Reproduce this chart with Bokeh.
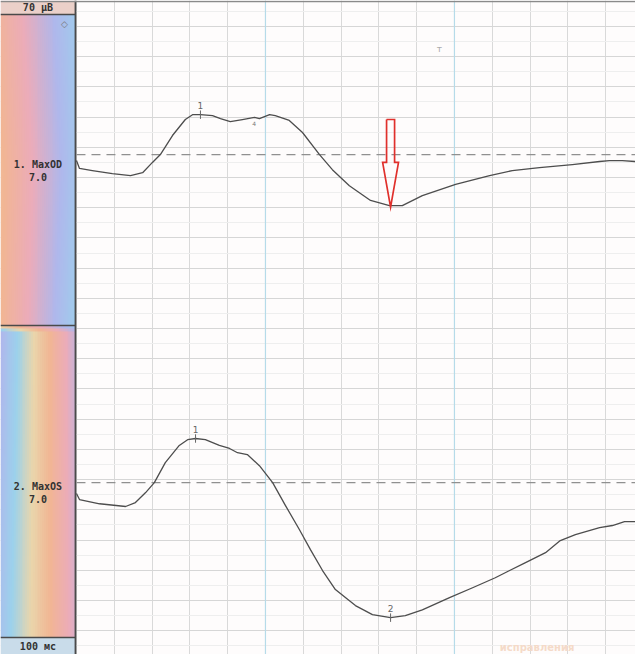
import numpy as np
from bokeh.plotting import figure
from bokeh.models import Range1d, Grid, FixedTicker, Span
from bokeh.core.properties import value
from bokeh.embed import file_html
from bokeh.resources import INLINE

# ---------------- data (time in ms, amplitude in µV relative to each channel baseline) -------------
t_od = [0, 0.8, 4.2, 9.5, 14.3, 17.5, 20.1, 22.2, 25.4, 28.8, 30.7, 32.8, 36.0, 38.1, 40.7,
        43.9, 47.1, 48.4, 51.1, 52.6, 56.3, 59.8, 64.3, 67.7, 72.2, 77.8, 82.8, 86.2, 91.5,
        100.3, 109.3, 115.3, 122.5, 131.2, 138.4, 141.0, 144.4, 147.9]
a_od = [-2.0, -4.6, -5.3, -6.3, -7.0, -6.0, -2.6, 0.0, 6.3, 11.6, 13.2, 13.2, 12.9, 11.9, 10.9,
        11.6, 12.3, 11.9, 13.2, 12.9, 11.3, 7.3, 0.0, -5.0, -10.3, -15.2, -16.9, -16.9, -13.6,
        -9.9, -7.0, -5.3, -4.3, -3.3, -2.3, -2.0, -2.0, -2.3]

t_os = [0, 0.8, 6.1, 13.0, 15.6, 18.3, 20.6, 23.5, 27.2, 29.4, 31.5, 34.1, 37.8, 40.5, 42.6,
        45.2, 48.4, 51.9, 55.3, 59.0, 61.9, 65.1, 68.5, 73.8, 78.3, 83.1, 87.0, 91.5, 98.7,
        104.8, 110.8, 114.6, 118.8, 124.1, 128.0, 132.0, 138.4, 141.8, 145.0, 147.9]
a_os = [-3.6, -5.6, -7.0, -7.9, -6.6, -3.3, 0.0, 6.6, 12.3, 14.2, 14.6, 14.2, 12.3, 11.3, 9.9,
        9.3, 5.6, 0.0, -7.6, -15.6, -22.2, -29.1, -35.4, -40.7, -43.7, -44.7, -44.0, -42.1, -38.1,
        -34.8, -31.5, -29.1, -26.5, -23.2, -19.2, -17.2, -14.9, -14.2, -12.9, -12.9]

od_marks_t = [32.8]
od_marks_a = [13.2]
od_marks_lbl = ["1"]
os_marks_t = [31.5, 83.1]
os_marks_a = [14.6, -44.7]
os_marks_lbl = ["1", "2"]

arrow_t = 83.1          # trough of the OD trace, marked by the red arrow
arrow_a = -17.4

channel_names = ["1. MaxOD", "2. MaxOS"]
channel_gain = ["7.0", "7.0"]
amp_scale_label = "70 µВ"
time_scale_label = "100 мс"

x_grid = list(range(0, 160, 10))
y_grid = list(range(-50, 160, 10))
y_grid_minor = [v + 5 for v in range(-60, 160, 10)]
x_major_blue = [50, 100]

# ---------------- layout constants ----------------
BASE_OD = 107.6
BASE_OS = -1.0
X0, X1 = -20.1, 147.9
Y0, Y1 = -57.9, 158.6
PANEL_R = -0.26

p = figure(width=635, height=654, x_range=Range1d(X0, X1), y_range=Range1d(Y0, Y1),
           output_backend="svg", toolbar_location=None, min_border=0,
           x_axis_type=None, y_axis_type=None)
p.outline_line_color = None
p.background_fill_color = "#fefcfc"
p.border_fill_color = "white"

gx = Grid(dimension=0, ticker=FixedTicker(ticks=x_grid), grid_line_color="#d9d9d9", grid_line_width=1)
gy = Grid(dimension=1, ticker=FixedTicker(ticks=y_grid, minor_ticks=y_grid_minor),
          grid_line_color="#d6d6d6", grid_line_width=1,
          minor_grid_line_color="#eeeeee", minor_grid_line_width=1)
p.add_layout(gx)
p.add_layout(gy)
for xv in x_major_blue:
    p.add_layout(Span(location=xv, dimension="height", line_color="#b6dbe9", line_width=1.2, level="underlay"))

# ---------------- left decorative panel (scanned colour gradient) ----------------
H, W = 220, 40
pal = np.array([[176, 184, 236], [156, 210, 236], [234, 214, 172], [242, 182, 148], [236, 172, 186]], float)
rows = np.arange(H)
py = 645 - (645 - 22) * rows / (H - 1)
shift = np.interp(py, [22, 180, 333, 340, 645], [3.3, 2.9, 3.0, 0.0, 0.5])
freq = np.interp(py, [22, 333, 340, 645], [2.4, 2.8, 4.6, 3.8])
xf = np.arange(W) / (W - 1)
phase = (shift[:, None] + freq[:, None] * xf[None, :]) % 5.0
i0 = np.floor(phase).astype(int)
fr = (phase - i0)[..., None]
rgb = pal[i0] * (1 - fr) + pal[(i0 + 1) % 5] * fr
rgb = np.clip(rgb, 0, 255).astype(np.uint32)
img = (255 << 24) | (rgb[..., 2] << 16) | (rgb[..., 1] << 8) | rgb[..., 0]
img = img.astype(np.uint32)
p.image_rgba(image=[img], x=X0, y=-52.3, dw=PANEL_R - X0, dh=154.0 + 52.3)

# label boxes
p.quad(left=[X0], right=[PANEL_R], bottom=[154.0], top=[Y1], fill_color="#ebd0c9", line_color=None)
p.quad(left=[X0], right=[PANEL_R], bottom=[Y0], top=[-52.3], fill_color="#c9dcea", line_color=None)
p.segment(x0=[X0, X0, X0], y0=[154.0, 51.0, -52.3], x1=[PANEL_R] * 3, y1=[154.0, 51.0, -52.3],
          line_color="#4a4a4a", line_width=1.5)
p.segment(x0=[PANEL_R], y0=[Y0], x1=[PANEL_R], y1=[Y1], line_color="#4a4a4a", line_width=1.8)
p.segment(x0=[X0], y0=[158.3], x1=[X1], y1=[158.3], line_color="#8a8a8a", line_width=1.5)

mono = value("DejaVu Sans Mono")
p.text(x=[-10.2], y=[156.3], text=[amp_scale_label], text_font=mono, text_font_size="10px",
       text_font_style="bold", text_color="#333333", text_align="center", text_baseline="middle")
p.text(x=[-10.2], y=[-55.2], text=[time_scale_label], text_font=mono, text_font_size="10px",
       text_font_style="bold", text_color="#333333", text_align="center", text_baseline="middle")
p.text(x=[-10.2, -10.2], y=[104.4, -2.2], text=channel_names, text_font=mono, text_font_size="10px",
       text_font_style="bold", text_color="#333333", text_align="center", text_baseline="middle")
p.text(x=[-10.2, -10.2], y=[100.3, -6.3], text=channel_gain, text_font=mono, text_font_size="10px",
       text_font_style="bold", text_color="#333333", text_align="center", text_baseline="middle")
p.text(x=[-3.2], y=[150.7], text=["◇"], text_font=value("DejaVu Sans"), text_font_size="9px",
       text_color="#777777", text_align="center", text_baseline="middle")

# ---------------- baselines and traces ----------------
for base in (BASE_OD, BASE_OS):
    p.segment(x0=[0], y0=[base], x1=[X1], y1=[base], line_color="#909090",
              line_width=1.3, line_dash="9 6")

y_od = np.array(a_od) + BASE_OD
y_os = np.array(a_os) + BASE_OS
p.line(t_od, y_od, line_color="#4d4d4d", line_width=1.3, line_join="round")
p.line(t_os, y_os, line_color="#4d4d4d", line_width=1.3, line_join="round")

# peak markers
mt = od_marks_t + os_marks_t
ma = list(np.array(od_marks_a) + BASE_OD) + list(np.array(os_marks_a) + BASE_OS)
ml = od_marks_lbl + os_marks_lbl
p.segment(x0=mt, y0=[v - 1.4 for v in ma], x1=mt, y1=[v + 1.4 for v in ma],
          line_color="#666666", line_width=1)
p.text(x=mt, y=[v + 1.8 for v in ma], text=ml, text_font=value("DejaVu Sans"), text_font_size="9px",
       text_color="#666666", text_align="center", text_baseline="bottom")

# stray scan marks
p.text(x=[47.0], y=[BASE_OD + 10.2], text=["4"], text_font=value("DejaVu Sans"), text_font_size="6px",
       text_color="#777777", text_align="center", text_baseline="middle")
p.text(x=[96.0], y=[142.4], text=["т"], text_font=value("DejaVu Sans"), text_font_size="9px",
       text_color="#aaaaaa", text_align="center", text_baseline="middle")
p.text(x=[112.0], y=[-53.9], text=["исправления"], text_font=value("DejaVu Sans"),
       text_font_size="10px", text_font_style="bold", text_color="#f5dac8",
       text_align="left", text_baseline="top")

# red hollow arrow pointing to the OD trough
tip = arrow_a + BASE_OD
top = BASE_OD + 11.6
head = BASE_OD - 2.6
shw, hhw = 1.06, 2.1
ax = [arrow_t - shw, arrow_t + shw, arrow_t + shw, arrow_t + hhw, arrow_t, arrow_t - hhw, arrow_t - shw, arrow_t - shw]
ay = [top, top, head, head, tip, head, head, top]
p.line(ax, ay, line_color="#e0302c", line_width=1.7, line_join="miter")

open("out.html", "w").write(file_html(p, INLINE))
